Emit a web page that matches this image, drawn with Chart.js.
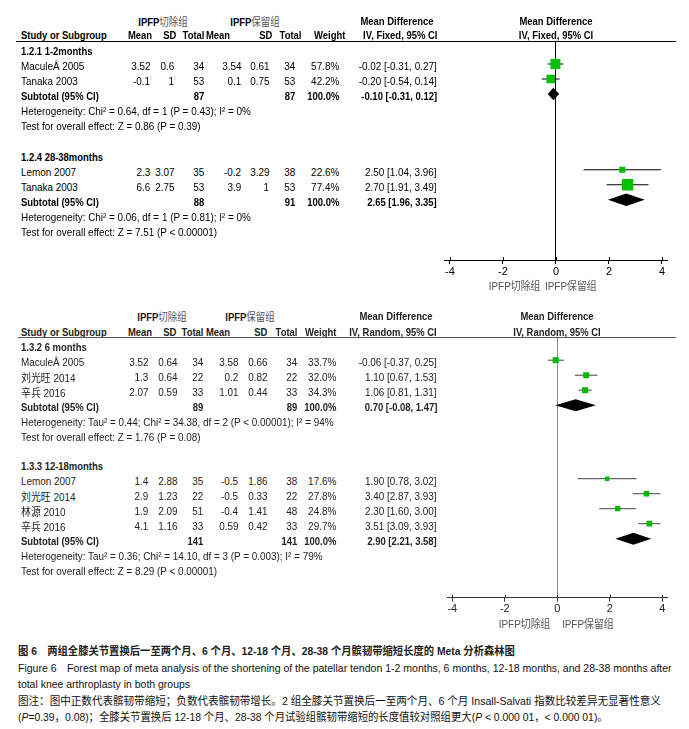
<!DOCTYPE html>
<html>
<head>
<meta charset="utf-8">
<script src="https://cdn.jsdelivr.net/npm/chart.js@4.4.1/dist/chart.umd.min.js"></script>
<style>
  body { margin: 0; background: #fff; }
  #page { position: relative; width: 689px; height: 729px; overflow: hidden; background: #fff;
          font-family: "Liberation Sans", Arial, "Noto Sans CJK SC", sans-serif; }
  #page canvas { position: absolute; }
  .t { position: absolute; white-space: nowrap; font-size: 11px; line-height: 14px; }
  .b { font-weight: bold; }
  .cjk { font-family: "Noto Sans CJK SC", sans-serif; font-weight: normal; }
  .hr { position: absolute; height: 1px; }
</style>
</head>
<body>
<div id="page">
  <canvas id="topChart" width="259" height="300" style="left:430px;top:0"></canvas>
  <canvas id="botChart" width="259" height="340" style="left:430px;top:300px"></canvas>
</div>
<script>
// ---------- data ----------
const xTicks = [-4, -2, 0, 2, 4];
const favourLabels = ["IPFP切除组", "IPFP保留组"];

// 1.2.1 1-2months (fixed)
const m12Names = ["MaculeÂ 2005", "Tanaka 2003"];
const m12ExpMean = [3.52, -0.1];
const m12ExpSD = [0.6, 1];
const m12ExpN = [34, 53];
const m12CtlMean = [3.54, 0.1];
const m12CtlSD = [0.61, 0.75];
const m12CtlN = [34, 53];
const m12Weight = [57.8, 42.2];
const m12MD = [-0.02, -0.20];
const m12Low = [-0.31, -0.54];
const m12High = [0.27, 0.14];
const m12SubN = [87, 87];
const m12Sub = [-0.10, -0.31, 0.12];

// 1.2.4 28-38months (fixed)
const m2838Names = ["Lemon 2007", "Tanaka 2003"];
const m2838ExpMean = [2.3, 6.6];
const m2838ExpSD = [3.07, 2.75];
const m2838ExpN = [35, 53];
const m2838CtlMean = [-0.2, 3.9];
const m2838CtlSD = [3.29, 1];
const m2838CtlN = [38, 53];
const m2838Weight = [22.6, 77.4];
const m2838MD = [2.50, 2.70];
const m2838Low = [1.04, 1.91];
const m2838High = [3.96, 3.49];
const m2838SubN = [88, 91];
const m2838Sub = [2.65, 1.96, 3.35];

// 1.3.2 6 months (random)
const m6Names = ["MaculeÂ 2005", "刘光旺 2014", "辛兵 2016"];
const m6ExpMean = [3.52, 1.3, 2.07];
const m6ExpSD = [0.64, 0.64, 0.59];
const m6ExpN = [34, 22, 33];
const m6CtlMean = [3.58, 0.2, 1.01];
const m6CtlSD = [0.66, 0.82, 0.44];
const m6CtlN = [34, 22, 33];
const m6Weight = [33.7, 32.0, 34.3];
const m6MD = [-0.06, 1.10, 1.06];
const m6Low = [-0.37, 0.67, 0.81];
const m6High = [0.25, 1.53, 1.31];
const m6SubN = [89, 89];
const m6Sub = [0.70, -0.08, 1.47];

// 1.3.3 12-18months (random)
const m1218Names = ["Lemon 2007", "刘光旺 2014", "林源 2010", "辛兵 2016"];
const m1218ExpMean = [1.4, 2.9, 1.9, 4.1];
const m1218ExpSD = [2.88, 1.23, 2.09, 1.16];
const m1218ExpN = [35, 22, 51, 33];
const m1218CtlMean = [-0.5, -0.5, -0.4, 0.59];
const m1218CtlSD = [1.86, 0.33, 1.41, 0.42];
const m1218CtlN = [38, 22, 48, 33];
const m1218Weight = [17.6, 27.8, 24.8, 29.7];
const m1218MD = [1.90, 3.40, 2.30, 3.51];
const m1218Low = [0.78, 2.87, 1.60, 3.09];
const m1218High = [3.02, 3.93, 3.00, 3.93];
const m1218SubN = [141, 141];
const m1218Sub = [2.90, 2.21, 3.58];

// ---------- layout ----------
const page = document.getElementById("page");
const W = 689;
const ROW = 15;

function put(x, y, html, align, opts) {
    opts = opts || {};
    const el = document.createElement("div");
    el.className = "t" + (opts.bold ? " b" : "");
    el.innerHTML = html;
    el.style.top = (y - 7) + "px";
    el.style.color = opts.color || "#000";
    const s = "scaleX(" + (opts.sx || (opts.bold ? 0.86 : 0.9)) + ")";
    if (align === "right") {
        el.style.right = (W - x) + "px";
        el.style.transformOrigin = "right center";
        el.style.transform = s;
    } else if (align === "center") {
        el.style.left = x + "px";
        el.style.transformOrigin = "center center";
        el.style.transform = "translateX(-50%) " + s;
    } else {
        el.style.left = x + "px";
        el.style.transformOrigin = "left center";
        el.style.transform = s;
    }
    page.appendChild(el);
    return el;
}

function hline(x1, x2, y, color) {
    const d = document.createElement("div");
    d.className = "hr";
    d.style.left = x1 + "px";
    d.style.width = (x2 - x1) + "px";
    d.style.top = y + "px";
    d.style.background = color;
    page.appendChild(d);
}

const cjk = s => s.replace(/([\u4e00-\u9fff]+)/g, '<span class="cjk">$1</span>');
const ci = (m, lo, hi) => m.toFixed(2) + " [" + lo.toFixed(2) + ", " + hi.toFixed(2) + "]";

const panels = [
    {
        canvas: "topChart", top: 0, height: 300, chartTop: 41.5, chartBottom: 260,
        left: 444.7, right: 667.3, ink: "#000", axis: "#000", zero: "#000", whisker: "#000",
        rule: "#000", green: "#00c000", k: 1.3, half: 6.2,
        method: "IV, Fixed, 95% CI", plotCenter: 555.5, lineFrom: 16,
        h1: [163, 255, 396.7], h1y: 20.5, h2y: 35,
        hcols: [152, 176, 204, 230, 272, 301, 345, 437],
        cols: [150, 174, 204, 241, 269, 295, 339, 437],
        favour: [540, 545], favourY: 284.5,
        groups: [
            { title: "1.2.1 1-2months", row: 1.5, names: m12Names, expMean: m12ExpMean, expSD: m12ExpSD, expN: m12ExpN,
              ctlMean: m12CtlMean, ctlSD: m12CtlSD, ctlN: m12CtlN, weight: m12Weight, md: m12MD, low: m12Low, high: m12High,
              subN: m12SubN, sub: m12Sub,
              het: "Heterogeneity: Chi² = 0.64, df = 1 (P = 0.43); I² = 0%",
              test: "Test for overall effect: Z = 0.86 (P = 0.39)" },
            { title: "1.2.4 28-38months", row: 8.55, names: m2838Names, expMean: m2838ExpMean, expSD: m2838ExpSD, expN: m2838ExpN,
              ctlMean: m2838CtlMean, ctlSD: m2838CtlSD, ctlN: m2838CtlN, weight: m2838Weight, md: m2838MD, low: m2838Low, high: m2838High,
              subN: m2838SubN, sub: m2838Sub,
              het: "Heterogeneity: Chi² = 0.06, df = 1 (P = 0.81); I² = 0%",
              test: "Test for overall effect: Z = 7.51 (P &lt; 0.00001)" }
        ]
    },
    {
        canvas: "botChart", top: 300, height: 340, chartTop: 337.7, chartBottom: 597.7,
        left: 447.1, right: 667.5, ink: "#222", axis: "#333", zero: "#888", whisker: "#444",
        rule: "#555", green: "#00b800", k: 1.05, half: 6,
        method: "IV, Random, 95% CI", plotCenter: 557, lineFrom: 18,
        h1: [161.7, 250, 396], h1y: 316, h2y: 331.5,
        hcols: [152, 176, 203, 230, 267, 297, 336, 437],
        cols: [148, 177, 203, 238, 267, 297, 336, 437],
        favour: [550, 562], favourY: 623,
        groups: [
            { title: "1.3.2 6 months", row: 1.5, names: m6Names, expMean: m6ExpMean, expSD: m6ExpSD, expN: m6ExpN,
              ctlMean: m6CtlMean, ctlSD: m6CtlSD, ctlN: m6CtlN, weight: m6Weight, md: m6MD, low: m6Low, high: m6High,
              subN: m6SubN, sub: m6Sub,
              het: "Heterogeneity: Tau² = 0.44; Chi² = 34.38, df = 2 (P &lt; 0.00001); I² = 94%",
              test: "Test for overall effect: Z = 1.76 (P = 0.08)" },
            { title: "1.3.3 12-18months", row: 9.4, names: m1218Names, expMean: m1218ExpMean, expSD: m1218ExpSD, expN: m1218ExpN,
              ctlMean: m1218CtlMean, ctlSD: m1218CtlSD, ctlN: m1218CtlN, weight: m1218Weight, md: m1218MD, low: m1218Low, high: m1218High,
              subN: m1218SubN, sub: m1218Sub,
              het: "Heterogeneity: Tau² = 0.36; Chi² = 14.10, df = 3 (P = 0.003); I² = 79%",
              test: "Test for overall effect: Z = 8.29 (P &lt; 0.00001)" }
        ]
    }
];

function panelText(p) {
    const o = { color: p.ink };
    const ob = { color: p.ink, bold: true };
    // headers
    const grey = '<span class="cjk" style="color:#555">';
    put(p.h1[0], p.h1y, "IPFP" + grey + "切除组</span>", "center", ob);
    put(p.h1[1], p.h1y, "IPFP" + grey + "保留组</span>", "center", ob);
    put(p.h1[2], p.h1y, "Mean Difference", "center", ob);
    put(p.plotCenter, p.h1y, "Mean Difference", "center", ob);
    put(20.7, p.h2y, "Study or Subgroup", "left", ob);
    ["Mean", "SD", "Total", "Mean", "SD", "Total", "Weight", p.method].forEach((h, i) => {
        put(p.hcols[i], p.h2y, h, "right", ob);
    });
    put(p.plotCenter, p.h2y, p.method, "center", ob);
    hline(p.lineFrom, 676, Math.floor(p.chartTop), p.rule);

    const ty = r => p.chartTop + r * ROW + 2;
    const c = p.cols;
    p.groups.forEach(g => {
        put(20.7, ty(g.row - 1), g.title, "left", ob);
        g.names.forEach((name, i) => {
            const y = ty(g.row + i);
            put(20.7, y, cjk(name), "left", o);
            put(c[0], y, String(g.expMean[i]), "right", o);
            put(c[1], y, String(g.expSD[i]), "right", o);
            put(c[2], y, String(g.expN[i]), "right", o);
            put(c[3], y, String(g.ctlMean[i]), "right", o);
            put(c[4], y, String(g.ctlSD[i]), "right", o);
            put(c[5], y, String(g.ctlN[i]), "right", o);
            put(c[6], y, g.weight[i].toFixed(1) + "%", "right", o);
            put(c[7], y, ci(g.md[i], g.low[i], g.high[i]), "right", o);
        });
        const ys = ty(g.row + g.names.length);
        put(20.7, ys, "Subtotal (95% CI)", "left", ob);
        put(c[2], ys, String(g.subN[0]), "right", ob);
        put(c[5], ys, String(g.subN[1]), "right", ob);
        put(c[6], ys, "100.0%", "right", ob);
        put(c[7], ys, ci(g.sub[0], g.sub[1], g.sub[2]), "right", ob);
        put(20.7, ys + ROW, g.het, "left", o);
        put(20.7, ys + 2 * ROW, g.test, "left", o);
    });
    put(p.favour[0], p.favourY, cjk(favourLabels[0]), "right", { color: "#555" });
    put(p.favour[1], p.favourY, cjk(favourLabels[1]), "left", { color: "#555" });
}

function panelChart(p) {
    const squares = [];
    const sizes = [];
    const diamonds = [];
    const datasets = [];
    p.groups.forEach(g => {
        g.md.forEach((v, i) => {
            const row = g.row + i;
            squares.push({ x: v, y: row });
            sizes.push(p.k * Math.sqrt(g.weight[i]) / Math.SQRT2);
            datasets.push({
                data: [{ x: g.low[i], y: row }, { x: g.high[i], y: row }],
                showLine: true, borderColor: p.whisker, borderWidth: 1, pointRadius: 0, order: 2
            });
        });
        diamonds.push({ est: g.sub[0], lo: g.sub[1], hi: g.sub[2], y: g.row + g.names.length });
    });
    datasets.unshift({
        data: squares, pointStyle: "rect", pointRadius: sizes,
        pointBackgroundColor: p.green, pointBorderWidth: 0, order: 1
    });

    const diamondPlugin = {
        id: "diamonds",
        afterDatasetsDraw(chart) {
            const { ctx, scales: { x, y } } = chart;
            ctx.save();
            ctx.fillStyle = "#000";
            diamonds.forEach(d => {
                const cy = y.getPixelForValue(d.y);
                const cx = x.getPixelForValue(d.est);
                ctx.beginPath();
                ctx.moveTo(x.getPixelForValue(d.lo), cy);
                ctx.lineTo(cx, cy - p.half);
                ctx.lineTo(x.getPixelForValue(d.hi), cy);
                ctx.lineTo(cx, cy + p.half);
                ctx.closePath();
                ctx.fill();
            });
            // upper half of the crossing tick marks
            const yb = chart.chartArea.bottom;
            ctx.strokeStyle = p.axis;
            ctx.lineWidth = 1;
            x.ticks.forEach(t => {
                const px = Math.round(x.getPixelForValue(t.value)) + 0.5;
                ctx.beginPath();
                ctx.moveTo(px, yb - 3);
                ctx.lineTo(px, yb);
                ctx.stroke();
            });
            ctx.restore();
        }
    };

    new Chart(document.getElementById(p.canvas), {
        type: "scatter",
        data: { datasets: datasets },
        plugins: [diamondPlugin],
        options: {
            responsive: false,
            animation: false,
            events: [],
            devicePixelRatio: 1,
            layout: {
                padding: {
                    top: p.chartTop - p.top,
                    bottom: p.top + p.height - p.chartBottom - 18,
                    left: p.left - 430,
                    right: W - p.right
                }
            },
            plugins: { legend: { display: false }, tooltip: { enabled: false } },
            scales: {
                x: {
                    type: "linear", min: -4.2, max: 4.2,
                    afterBuildTicks: s => { s.ticks = xTicks.map(v => ({ value: v })); },
                    afterFit: s => { s.height = 18; },
                    grid: {
                        color: c => (c.tick && c.tick.value === 0) ? p.zero : "rgba(0,0,0,0)",
                        tickColor: p.axis, tickLength: 4, lineWidth: 1
                    },
                    border: { color: p.axis, width: 1 },
                    ticks: {
                        color: p.ink, padding: 1, maxRotation: 0, autoSkip: false,
                        font: { family: "Liberation Sans", size: 11 },
                        callback: v => String(v)
                    }
                },
                y: { display: false, reverse: true, min: 0, max: (p.chartBottom - p.chartTop) / ROW }
            }
        }
    });
}

panels.forEach(p => { panelText(p); panelChart(p); });

// ---------- caption ----------
const captions = [
    { y: 651, w: 497, bold: true, html: "图 6　两组全膝关节置换后一至两个月、6 个月、12-18 个月、28-38 个月髌韧带缩短长度的 Meta 分析森林图" },
    { y: 668, w: 654, html: "Figure 6　Forest map of meta analysis of the shortening of the patellar tendon 1-2 months, 6 months, 12-18 months, and 28-38 months after" },
    { y: 684, w: 172, html: "total knee arthroplasty in both groups" },
    { y: 701, w: 643, html: "图注：图中正数代表髌韧带缩短；负数代表髌韧带增长。2 组全膝关节置换后一至两个月、6 个月 Insall-Salvati 指数比较差异无显著性意义" },
    { y: 717, w: 590, html: "(<i>P</i>=0.39，0.08)；全膝关节置换后 12-18 个月、28-38 个月试验组髌韧带缩短的长度值较对照组更大(<i>P</i> &lt; 0.000 01，&lt; 0.000 01)。" }
];
const capEls = captions.map(c => {
    const el = put(18, c.y, c.html, "left", { color: c.bold ? "#222" : "#111", bold: c.bold });
    el.style.fontFamily = '"Liberation Sans", "Noto Sans CJK SC", sans-serif';
    return el;
});
function fitCaptions() {
    capEls.forEach((el, i) => {
        el.style.transform = "scaleX(" + (captions[i].w / el.offsetWidth) + ")";
    });
}
fitCaptions();
if (document.fonts && document.fonts.ready) document.fonts.ready.then(fitCaptions);
</script>
</body>
</html>
